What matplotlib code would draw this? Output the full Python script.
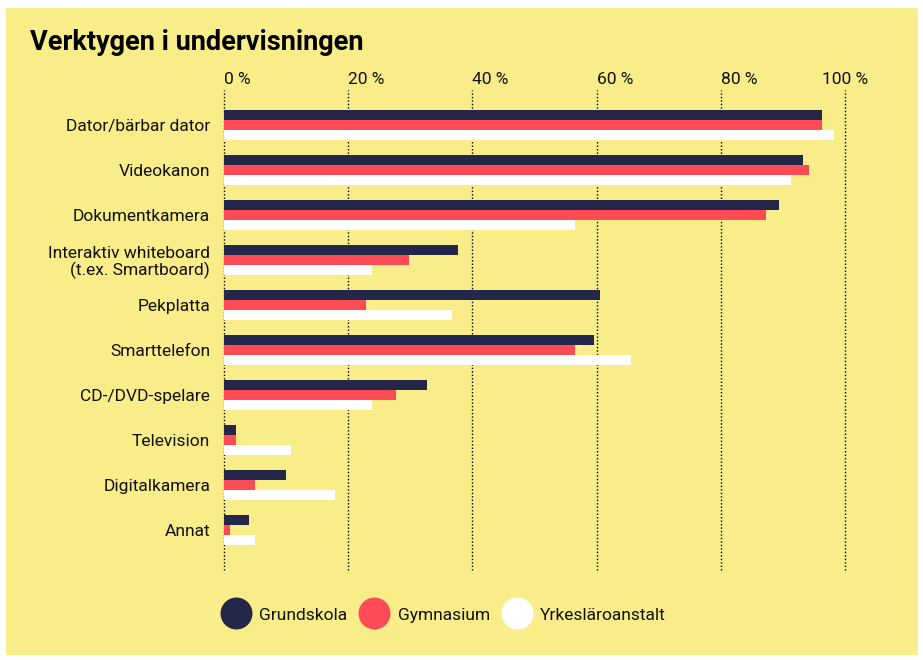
import numpy as np
import matplotlib.pyplot as plt
from matplotlib.patches import Rectangle
from matplotlib.lines import Line2D

plt.rcParams['font.family'] = ['Roboto', 'DejaVu Sans']

# data
categories = ["Dator/bärbar dator", "Videokanon", "Dokumentkamera",
              "Interaktiv whiteboard\n(t.ex. Smartboard)", "Pekplatta",
              "Smarttelefon", "CD-/DVD-spelare", "Television",
              "Digitalkamera", "Annat"]
grundskola = [96.3, 93.2, 89.4, 37.7, 60.5, 59.6, 32.7, 1.9, 10.0, 4.0]
gymnasium = [96.3, 94.2, 87.3, 29.8, 22.9, 56.5, 27.7, 1.9, 5.0, 1.0]
yrkes = [98.2, 91.3, 56.5, 23.8, 36.7, 65.5, 23.8, 10.8, 17.9, 5.0]
series_names = ["Grundskola", "Gymnasium", "Yrkesläroanstalt"]
xticks = [0, 20, 40, 60, 80, 100]
xticklabels = ["0 %", "20 %", "40 %", "60 %", "80 %", "100 %"]

yellow = "#f8ed88"
colors = ["#24264a", "#ff4b55", "#ffffff"]
txt = "#111111"

fig = plt.figure(figsize=(9.23, 6.6), dpi=100, facecolor="white")
fig.patches.append(Rectangle((6/923, 1 - 655/660), 912/923, 647/660,
                             transform=fig.transFigure, facecolor=yellow,
                             edgecolor="none", zorder=-5))

ax = fig.add_axes([224/923, 1 - 570/660, (845-224)/923, 480/660])
ax.set_facecolor("none")
ax.set_zorder(2)

y = np.arange(len(categories))
h = 0.222
for k, vals in enumerate([grundskola, gymnasium, yrkes]):
    ax.barh(y + (k - 1) * h, vals, height=h, color=colors[k], zorder=2,
            clip_on=False)

ax.set_xlim(0, 100)
ax.set_ylim(9 + 40/45, -35/45)
for s in ax.spines.values():
    s.set_visible(False)

ax.set_yticks(y)
ax.set_yticklabels(categories, fontsize=12.5, color=txt, linespacing=1.05)
ax.tick_params(axis="y", length=0, pad=10)
for lab in ax.get_yticklabels():
    lab.set_horizontalalignment("right")
    lab.set_multialignment("right")

ax.xaxis.tick_top()
ax.set_xticks(xticks)
ax.set_xticklabels(xticklabels, fontsize=12.5, color=txt)
ax.tick_params(axis="x", length=0, pad=2)
for i, lab in enumerate(ax.get_xticklabels()):
    lab.set_horizontalalignment("center" if i == len(xticks) - 1 else "left")

for xv in xticks:
    ax.axvline(xv, color="black", lw=1.0, ls=(0, (1, 1.5)), zorder=1,
               clip_on=False)

fig.text(30/923, 1 - 42/660, "Verktygen i undervisningen", fontsize=19.5,
         fontweight="bold", color="black", va="center", ha="left")

handles = [Line2D([], [], marker="o", ls="none", markersize=22,
                  markerfacecolor=c, markeredgecolor=c) for c in colors]
fig.legend(handles, series_names, loc="center", ncol=3,
           bbox_to_anchor=(442/923, 1 - 615/660), frameon=False,
           fontsize=12.5, handletextpad=0.35, columnspacing=0.55,
           labelcolor=txt)

fig.savefig("out.png", dpi=100, facecolor="white")
